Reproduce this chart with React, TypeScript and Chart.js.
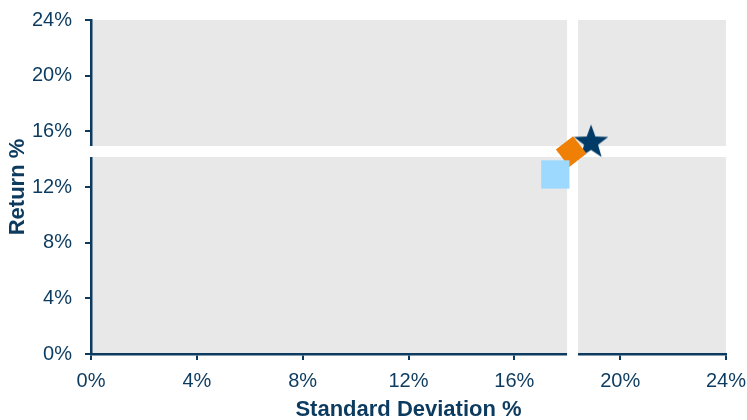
import React, { useEffect, useRef } from "react";
import { Chart, registerables } from "chart.js";

Chart.register(...registerables);

// ---- data ----
const seriesNames = ["Fund", "Benchmark", "Peer"];
const stdDevValues = [18.9, 18.15, 17.55]; // x, %
const returnValues = [15.2, 14.55, 12.9]; // y, %
const dividerX = 18.2; // average std dev
const dividerY = 14.55; // average return
const xTicks = [0, 4, 8, 12, 16, 20, 24];
const yTicks = [0, 4, 8, 12, 16, 20, 24];

const NAVY = "#0c3b5f";
const STAR = "#003a66";
const ORANGE = "#f07f06";
const LIGHTBLUE = "#9dd8ff";
const GRAY = "#e8e8e8";

function makeStar(outer: number, color: string): HTMLCanvasElement {
  const size = Math.ceil(outer * 2 + 2);
  const c = document.createElement("canvas");
  c.width = size;
  c.height = size;
  const g = c.getContext("2d")!;
  const cx = size / 2;
  const cy = size / 2;
  const inner = outer * 0.41;
  g.beginPath();
  for (let i = 0; i < 10; i++) {
    const r = i % 2 === 0 ? outer : inner;
    const a = -Math.PI / 2 + (i * Math.PI) / 5;
    const px = cx + r * Math.cos(a);
    const py = cy + r * Math.sin(a);
    if (i === 0) g.moveTo(px, py);
    else g.lineTo(px, py);
  }
  g.closePath();
  g.fillStyle = color;
  g.fill();
  return c;
}

const quadPlugin = {
  id: "quadrants",
  beforeDraw(chart: any) {
    const { ctx, chartArea } = chart;
    const { left, top, right, bottom } = chartArea;
    ctx.save();
    ctx.fillStyle = GRAY;
    ctx.fillRect(left, top, right - left, bottom - top);
    ctx.restore();
  },
  beforeDatasetsDraw(chart: any) {
    const { ctx, chartArea, scales } = chart;
    const { left, top, right, bottom } = chartArea;
    const x = scales.x.getPixelForValue(dividerX);
    const y = scales.y.getPixelForValue(dividerY);
    ctx.save();
    ctx.fillStyle = "#ffffff";
    ctx.fillRect(x - 5.5, top, 11, bottom - top + 2);
    ctx.fillRect(left - 3, y - 5.5, right - left + 3, 11);
    ctx.restore();
  },
};

export default function App() {
  const ref = useRef<HTMLCanvasElement>(null);
  useEffect(() => {
    const star = makeStar(18, STAR);
    const styles: any[] = [star, "rectRot", "rect"];
    const colors = [STAR, ORANGE, LIGHTBLUE];
    const radii = [18, 15.5, 20];
    const rotations = [0, 7, 0];
    const order = [2, 1, 0];
    const datasets = order.map((i) => ({
      label: seriesNames[i],
      data: [{ x: stdDevValues[i], y: returnValues[i] }],
      pointStyle: styles[i],
      backgroundColor: colors[i],
      borderColor: colors[i],
      borderWidth: 0,
      pointRadius: radii[i],
      rotation: rotations[i],
    }));
    const tickFont = { family: "'Liberation Sans', Arial, sans-serif", size: 20 };
    const titleFont = { family: "'Liberation Sans', Arial, sans-serif", size: 22, weight: "bold" as const };
    const chart = new Chart(ref.current!, {
      type: "scatter",
      data: { datasets },
      plugins: [quadPlugin],
      options: {
        animation: false,
        responsive: true,
        maintainAspectRatio: false,
        layout: { padding: { left: 0, top: 15, right: 21, bottom: 0 } },
        plugins: { legend: { display: false }, tooltip: { enabled: false } },
        scales: {
          x: {
            type: "linear",
            min: 0,
            max: 24,
            afterBuildTicks: (s: any) => {
              s.ticks = xTicks.map((v) => ({ value: v }));
            },
            afterFit: (s: any) => {
              s.height = 66;
              s.paddingLeft = 0;
              s.paddingRight = 0;
            },
            ticks: {
              color: NAVY,
              font: tickFont,
              padding: 9,
              maxRotation: 0,
              callback: (v: any) => v + "%",
            },
            grid: { drawOnChartArea: false, drawTicks: true, tickLength: 6, color: NAVY, lineWidth: 2 },
            border: { color: NAVY, width: 2.5 },
            title: { display: true, text: "Standard Deviation %", color: NAVY, font: titleFont, padding: { top: 0, bottom: -3 } },
          },
          y: {
            type: "linear",
            min: 0,
            max: 24,
            afterBuildTicks: (s: any) => {
              s.ticks = yTicks.map((v) => ({ value: v }));
            },
            afterFit: (s: any) => {
              s.width = 91;
              s.paddingTop = 0;
              s.paddingBottom = 0;
            },
            ticks: {
              color: NAVY,
              font: tickFont,
              padding: 13,
              callback: (v: any) => v + "%",
            },
            grid: { drawOnChartArea: false, drawTicks: true, tickLength: 6, color: NAVY, lineWidth: 2 },
            border: { color: NAVY, width: 2.5 },
            title: { display: true, text: "Return %", color: NAVY, font: titleFont, padding: { top: 5, bottom: 0 } },
          },
        },
      },
    });
    return () => chart.destroy();
  }, []);
  return (
    <div style={{ position: "absolute", left: 0, top: 0, width: 747, height: 420 }}>
      <canvas ref={ref} />
    </div>
  );
}
